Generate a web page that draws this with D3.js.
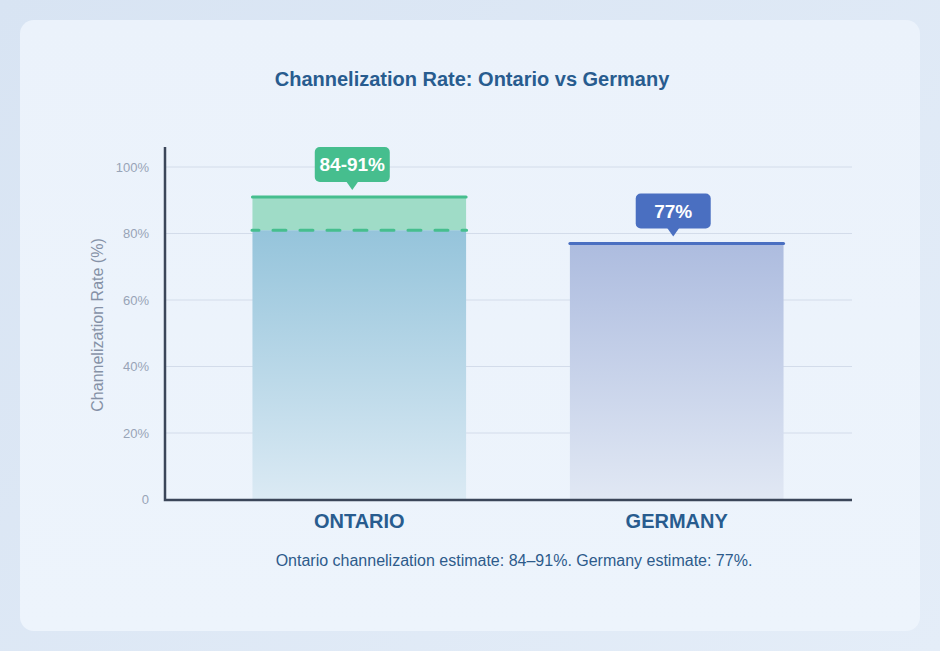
<!DOCTYPE html>
<html>
<head>
<meta charset="utf-8">
<script src="https://cdn.jsdelivr.net/npm/d3@7"></script>
<style>
  html, body { margin: 0; padding: 0; }
  body {
    width: 940px; height: 651px;
    background: linear-gradient(135deg, #d8e4f3 0%, #e4edf8 100%);
    font-family: "Liberation Sans", Arial, sans-serif;
    overflow: hidden;
  }
  #card {
    position: absolute; left: 20px; top: 20px;
    width: 900px; height: 611px;
    border-radius: 14px;
    background: linear-gradient(180deg, #ebf2fb 0%, #edf4fc 100%);
  }
  svg { position: absolute; left: 0; top: 0; }
</style>
</head>
<body>
<div id="card"></div>
<svg id="chart" width="940" height="651"></svg>
<script>
// chart values
var categories = [ "ONTARIO", "GERMANY" ];
var barValues = [ 81, 77 ];        // solid part of each bar
var rangeHigh = [ 91, null ];      // top of the Ontario estimate band
var badgeLabels = [ "84-91%", "77%" ];
var yTicks = [ 0, 20, 40, 60, 80, 100 ];
var footnote = "Ontario channelization estimate: 84\u201391%. Germany estimate: 77%.";

var svg = d3.select( "#chart" );

var axisLeft = 165, axisRight = 852, axisBottom = 500, axisTop = 147;
var badgeShift = [ -7, -3.5 ]; // badges sit a bit left of bar centre

var y = d3.scaleLinear()
    .domain( [ 0, 100 ] )
    .range( [ 499.5, 167 ] );

var x = d3.scaleBand()
    .domain( categories )
    .range( [ 175, 861 ] )
    .paddingInner( 0.327 )
    .paddingOuter( 0.244 );

// gradients
var defs = svg.append( "defs" );
function grad( id, top, bottom ) {
    var g = defs.append( "linearGradient" ).attr( "id", id )
        .attr( "x1", 0 ).attr( "y1", 0 ).attr( "x2", 0 ).attr( "y2", 1 );
    g.append( "stop" ).attr( "offset", "0%" ).attr( "stop-color", top );
    g.append( "stop" ).attr( "offset", "100%" ).attr( "stop-color", bottom );
}
grad( "ontGrad", "#95c4db", "#dbeaf4" );
grad( "gerGrad", "#adbcdf", "#e1e8f4" );

// title
svg.append( "text" )
    .attr( "x", 472 ).attr( "y", 86 )
    .attr( "text-anchor", "middle" )
    .attr( "font-size", 20 ).attr( "font-weight", "bold" )
    .attr( "fill", "#285c8f" )
    .text( "Channelization Rate: Ontario vs Germany" );

// gridlines
svg.append( "g" ).selectAll( "line" )
    .data( yTicks.filter( d => d > 0 ) )
    .enter().append( "line" )
    .attr( "x1", axisLeft ).attr( "x2", axisRight )
    .attr( "y1", d => y( d ) ).attr( "y2", d => y( d ) )
    .attr( "stroke", "#d3dcea" ).attr( "stroke-width", 1 );

// y tick labels
svg.append( "g" ).selectAll( "text" )
    .data( yTicks )
    .enter().append( "text" )
    .attr( "x", 149 ).attr( "y", d => y( d ) + 4.5 )
    .attr( "text-anchor", "end" )
    .attr( "font-size", 13 ).attr( "fill", "#98a4b7" )
    .text( d => d === 0 ? "0" : d + "%" );

// y axis title
svg.append( "text" )
    .attr( "transform", "translate(103,325) rotate(-90)" )
    .attr( "text-anchor", "middle" )
    .attr( "font-size", 16 ).attr( "fill", "#8591a6" )
    .text( "Channelization Rate (%)" );

// bars
var colors = [ "#46be8e", "#4a6fc1" ];
var fills = [ "url(#ontGrad)", "url(#gerGrad)" ];

svg.append( "g" ).selectAll( "rect" )
    .data( categories )
    .enter().append( "rect" )
    .attr( "x", d => x( d ) )
    .attr( "width", x.bandwidth() )
    .attr( "y", ( d, i ) => y( barValues[ i ] ) )
    .attr( "height", ( d, i ) => y( 0 ) - y( barValues[ i ] ) )
    .attr( "fill", ( d, i ) => fills[ i ] );

// Ontario estimate band
categories.forEach( function ( c, i ) {
    if ( rangeHigh[ i ] == null ) return;
    svg.append( "rect" )
        .attr( "x", x( c ) ).attr( "width", x.bandwidth() )
        .attr( "y", y( rangeHigh[ i ] ) )
        .attr( "height", y( barValues[ i ] ) - y( rangeHigh[ i ] ) )
        .attr( "fill", "#9fdcc7" );
    svg.append( "line" )
        .attr( "x1", x( c ) - 0.5 ).attr( "x2", x( c ) + x.bandwidth() + 0.5 )
        .attr( "y1", y( barValues[ i ] ) ).attr( "y2", y( barValues[ i ] ) )
        .attr( "stroke", colors[ i ] ).attr( "stroke-width", 3 )
        .attr( "stroke-linecap", "round" )
        .attr( "stroke-dasharray", "13,14" )
        .attr( "stroke-dashoffset", 6 );
} );

// top lines
svg.append( "g" ).selectAll( "line" )
    .data( categories )
    .enter().append( "line" )
    .attr( "x1", d => x( d ) )
    .attr( "x2", d => x( d ) + x.bandwidth() )
    .attr( "y1", ( d, i ) => y( rangeHigh[ i ] != null ? rangeHigh[ i ] : barValues[ i ] ) )
    .attr( "y2", ( d, i ) => y( rangeHigh[ i ] != null ? rangeHigh[ i ] : barValues[ i ] ) )
    .attr( "stroke", ( d, i ) => colors[ i ] )
    .attr( "stroke-width", 3 )
    .attr( "stroke-linecap", "round" );

// badges
categories.forEach( function ( c, i ) {
    var topVal = rangeHigh[ i ] != null ? rangeHigh[ i ] : barValues[ i ];
    var cx = x( c ) + x.bandwidth() / 2 + badgeShift[ i ];
    var bottom = y( topVal ) - 15;
    var w = 75, h = 35;
    var g = svg.append( "g" );
    g.append( "rect" )
        .attr( "x", cx - w / 2 ).attr( "y", bottom - h )
        .attr( "width", w ).attr( "height", h )
        .attr( "rx", 5 ).attr( "fill", colors[ i ] );
    g.append( "path" )
        .attr( "d", "M" + ( cx - 6 ) + "," + ( bottom - 0.5 ) + " L" + cx + "," + ( bottom + 8 ) + " L" + ( cx + 6 ) + "," + ( bottom - 0.5 ) + "Z" )
        .attr( "fill", colors[ i ] );
    g.append( "text" )
        .attr( "x", cx ).attr( "y", bottom - h / 2 + 7 )
        .attr( "text-anchor", "middle" )
        .attr( "font-size", 19 ).attr( "font-weight", "bold" )
        .attr( "fill", "#ffffff" )
        .text( badgeLabels[ i ] );
} );

// axes lines
svg.append( "path" )
    .attr( "d", "M" + axisLeft + "," + axisTop + " V" + axisBottom + " H" + axisRight )
    .attr( "fill", "none" )
    .attr( "stroke", "#3b4659" ).attr( "stroke-width", 2.5 );

// category labels
svg.append( "g" ).selectAll( "text" )
    .data( categories )
    .enter().append( "text" )
    .attr( "x", d => x( d ) + x.bandwidth() / 2 )
    .attr( "y", 528 )
    .attr( "text-anchor", "middle" )
    .attr( "font-size", 20 ).attr( "font-weight", "bold" )
    .attr( "fill", "#285c8f" )
    .text( d => d );

// footnote
svg.append( "text" )
    .attr( "x", 514 ).attr( "y", 566 )
    .attr( "text-anchor", "middle" )
    .attr( "font-size", 16 ).attr( "fill", "#2d5b8b" )
    .text( footnote );
</script>
</body>
</html>
